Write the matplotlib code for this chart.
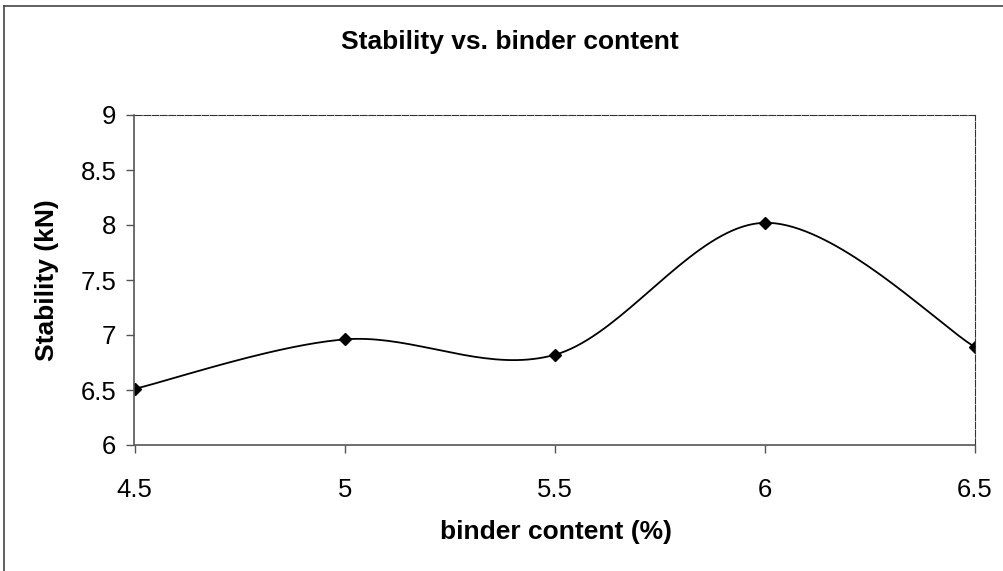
import numpy as np
import matplotlib
matplotlib.use("Agg")
import matplotlib.pyplot as plt
from matplotlib.lines import Line2D

binder = [4.5, 5.0, 5.5, 6.0, 6.5]
stability = [6.51, 6.96, 6.82, 8.02, 6.89]
xticks = [4.5, 5, 5.5, 6, 6.5]
xticklabels = ["4.5", "5", "5.5", "6", "6.5"]
yticks = [6, 6.5, 7, 7.5, 8, 8.5, 9]
yticklabels = ["6", "6.5", "7", "7.5", "8", "8.5", "9"]

plt.rcParams['font.family'] = ['Liberation Sans', 'DejaVu Sans']

W, H = 1004, 571
fig = plt.figure(figsize=(W / 100, H / 100), dpi=100)
ax = fig.add_axes([134.5 / W, 1 - 445 / H, (975 - 134.5) / W, (445 - 115) / H])


def smooth(xs, ys, n=40):
    # Excel-like smoothed line: Catmull-Rom through the points
    p = np.column_stack([xs, ys]).astype(float)
    pts = np.vstack([p[0], p, p[-1]])
    out = []
    for i in range(1, len(pts) - 2):
        p0, p1, p2, p3 = pts[i - 1], pts[i], pts[i + 1], pts[i + 2]
        c1 = p1 + (p2 - p0) / 6.0
        c2 = p2 - (p3 - p1) / 6.0
        t = np.linspace(0, 1, n)[:, None]
        seg = ((1 - t) ** 3) * p1 + 3 * ((1 - t) ** 2) * t * c1 + 3 * (1 - t) * t ** 2 * c2 + t ** 3 * p2
        out.append(seg if i == 1 else seg[1:])
    s = np.vstack(out)
    return s[:, 0], s[:, 1]


sx, sy = smooth(binder, stability)
ax.plot(sx, sy, color="black", lw=1.3, solid_capstyle="round")
ax.plot(binder, stability, linestyle="none", marker="D", markersize=6.5, color="black")

ax.set_xlim(4.5, 6.5)
ax.set_ylim(6, 9)
ax.set_xticks(xticks)
ax.set_xticklabels(xticklabels)
ax.set_yticks(yticks)
ax.set_yticklabels(yticklabels)
ax.tick_params(axis="both", direction="out", length=6, width=1, color="#555555",
               labelsize=18.5, labelcolor="black")
ax.tick_params(axis="x", pad=18)
ax.tick_params(axis="y", pad=7)

for side in ["left", "bottom"]:
    ax.spines[side].set_color("#555555")
    ax.spines[side].set_linewidth(1.2)
for side in ["top", "right"]:
    ax.spines[side].set_color("#333333")
    ax.spines[side].set_linewidth(0.8)
    ax.spines[side].set_linestyle((0, (6, 1.5)))

fig.text(510 / W, 1 - 42 / H, "Stability vs. binder content", ha="center", va="center",
         fontsize=19, fontweight="bold")
fig.text(556 / W, 1 - 532 / H, "binder content (%)", ha="center", va="center",
         fontsize=19, fontweight="bold")
fig.text(47 / W, 1 - 280 / H, "Stability (kN)", ha="center", va="center",
         fontsize=19, fontweight="bold", rotation=90)

# outer chart border (left and top edges visible)
fig.add_artist(Line2D([4 / W, 4 / W], [0, 1 - 6 / H], transform=fig.transFigure,
                      color="#444444", lw=1.2))
fig.add_artist(Line2D([4 / W, 1], [1 - 6 / H, 1 - 6 / H], transform=fig.transFigure,
                      color="#444444", lw=1.2))

fig.savefig("out.png", dpi=100)
